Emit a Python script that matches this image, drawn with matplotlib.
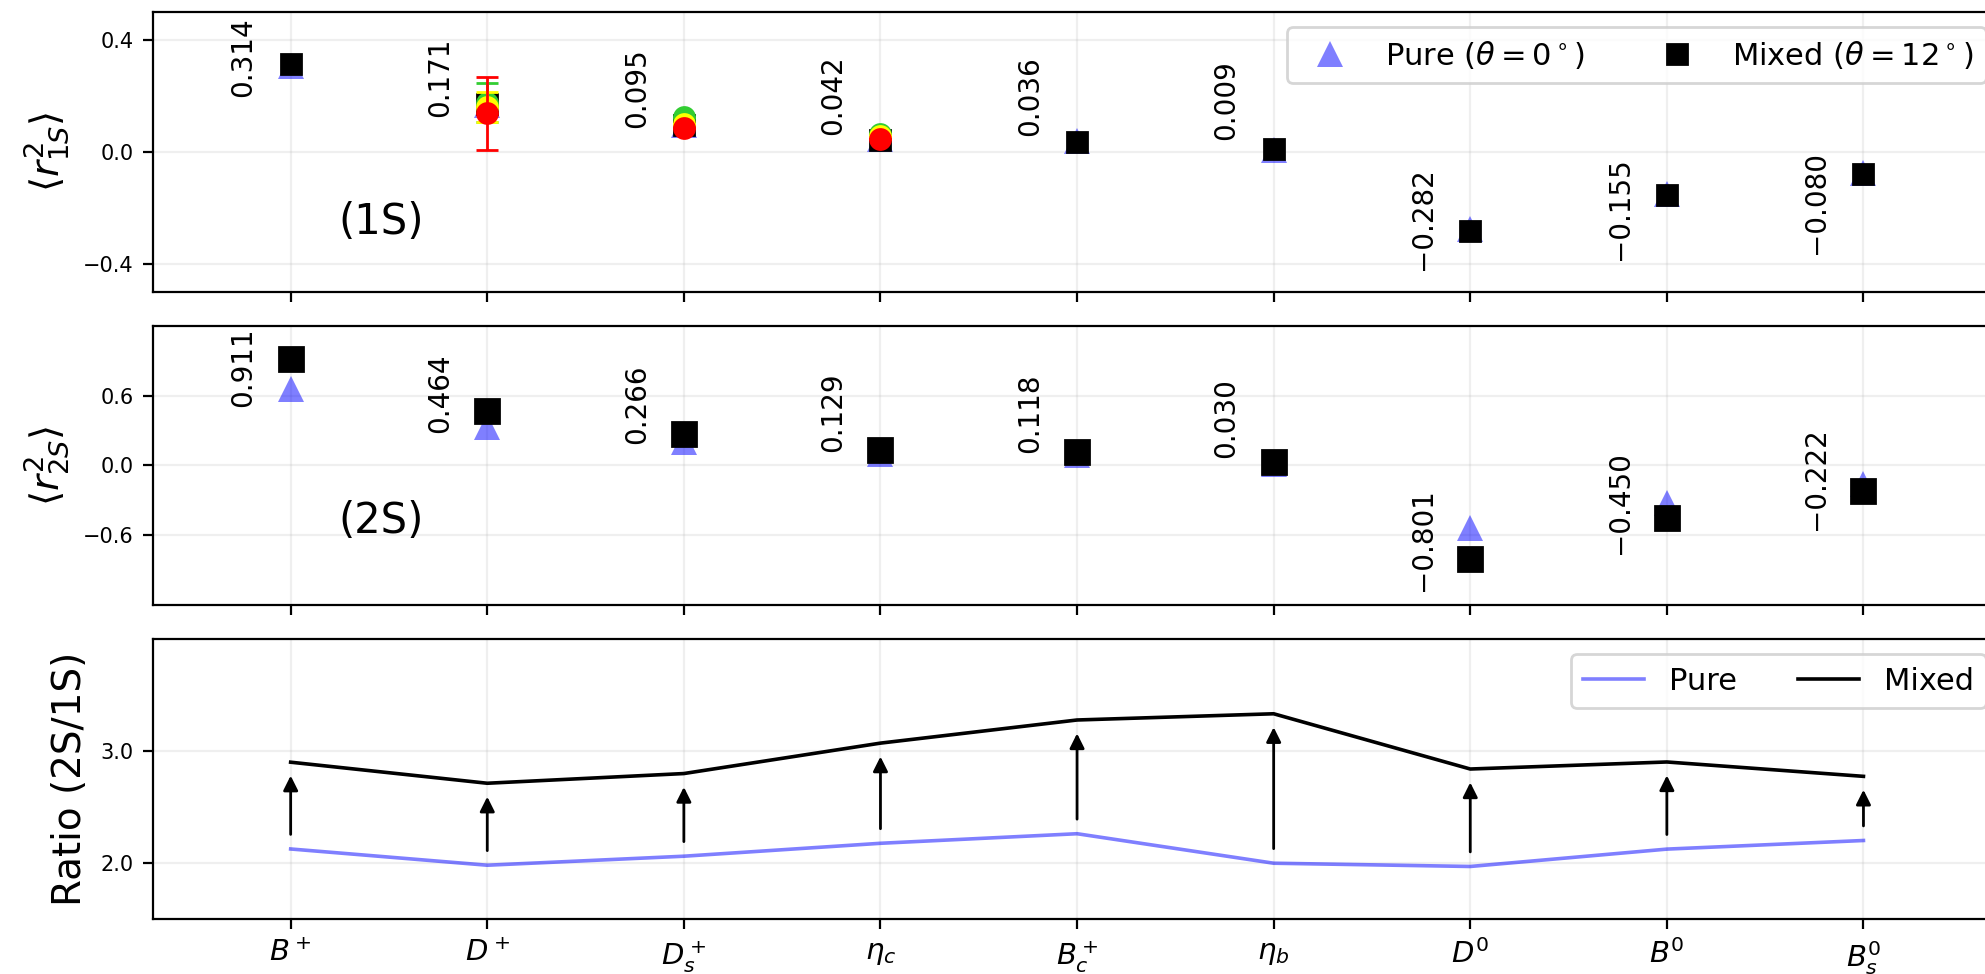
import numpy as np
import matplotlib
import matplotlib.pyplot as plt
from matplotlib.ticker import FormatStrFormatter

matplotlib.use("Agg")

# mesons on the x axis
mesons = [r"$B^+$", r"$D^+$", r"$D_s^+$", r"$\eta_c$", r"$B_c^+$",
          r"$\eta_b$", r"$D^0$", r"$B^0$", r"$B_s^0$"]

# <r^2> values, pure (theta = 0) and mixed (theta = 12 deg)
pure_1s = [0.307, 0.168, 0.096, 0.045, 0.038, 0.007, -0.275, -0.151, -0.074]
pure_2s = [0.653, 0.333, 0.198, 0.098, 0.086, 0.014, -0.542, -0.321, -0.163]
mixed_1s = [0.314, 0.171, 0.095, 0.042, 0.036, 0.009, -0.282, -0.155, -0.080]
mixed_2s = [0.911, 0.464, 0.266, 0.129, 0.118, 0.030, -0.801, -0.450, -0.222]

# other 1S results for D+, Ds+, eta_c (index 1, 2, 3)
other_idx = [1, 2, 3]
green_val = [0.176, 0.125, 0.063]
green_err = [0.070, 0.0, 0.0]
yellow_val = [0.160, 0.100, 0.055]
yellow_err = [0.053, 0.0, 0.0]
red_val = [0.138, 0.084, 0.047]
red_err = [0.130, 0.0, 0.0]

x = np.arange(len(mesons))
ratio_pure = np.array(pure_2s) / np.array(pure_1s)
ratio_mixed = np.array(mixed_2s) / np.array(mixed_1s)

fig = plt.figure(figsize=(9.925, 4.87), dpi=200)
ax1 = fig.add_axes([0.0771, 0.7002, 0.931, 0.2878])
ax2 = fig.add_axes([0.0771, 0.3789, 0.931, 0.2867])
ax3 = fig.add_axes([0.0771, 0.0562, 0.931, 0.2877])


def radius_panel(ax, pure, mixed, sq_size, ylim, yticks, ylabel, tag, tag_y, pos_rule, neg_rule):
    ax.plot(x, pure, "^", color="blue", alpha=0.5, markersize=9.5,
            markeredgewidth=0, linestyle="none", label=r"Pure ($\theta=0^\circ$)", zorder=3)
    ax.plot(x, mixed, "s", color="black", markersize=sq_size,
            linestyle="none", label=r"Mixed ($\theta=12^\circ$)", zorder=4)
    for xi, v in zip(x, mixed):
        a, b = pos_rule if v >= 0 else neg_rule
        ax.text(xi - 0.24, a * v + b, f"{v:.3f}".replace("-", "\u2212"),
                rotation=90, ha="center", va="center", fontsize=10)
    ax.text(0.46, tag_y, tag, fontsize=15, ha="center", va="center")
    ax.set_xlim(-0.7, 8.7)
    ax.set_ylim(*ylim)
    ax.set_yticks(yticks)
    ax.set_ylabel(ylabel, fontsize=14)
    ax.set_xticks(x)
    ax.set_xticklabels([])
    ax.tick_params(axis="y", labelsize=7.5)
    ax.grid(alpha=0.2)


radius_panel(ax1, pure_1s, mixed_1s, 7.5, (-0.5, 0.5), [-0.4, 0.0, 0.4],
             r"$\langle r^2_{1S} \rangle$", "(1S)", -0.25, (0.5, 0.18), (0.3, -0.155))

# extra 1S points with error bars
ax1.errorbar(x[other_idx], green_val, yerr=green_err, fmt="o", color="limegreen",
             markersize=7.2, capsize=4, elinewidth=1, zorder=5)
ax1.errorbar(x[other_idx], yellow_val, yerr=yellow_err, fmt="o", color="yellow",
             markersize=7.2, capsize=4, elinewidth=1, zorder=6)
ax1.errorbar(x[other_idx], red_val, yerr=red_err, fmt="o", color="red",
             markersize=7.2, capsize=4, elinewidth=1, zorder=7)
ax1.legend(ncol=2, loc="upper right", fontsize=11)

radius_panel(ax2, pure_2s, mixed_2s, 8.5, (-1.2, 1.2), [-0.6, 0.0, 0.6],
             r"$\langle r^2_{2S} \rangle$", "(2S)", -0.48, (0.5, 0.39), (0.9, 0.087))

# ratio panel
ax3.plot(x, ratio_pure, color="blue", alpha=0.5, linewidth=1.3, label="Pure")
ax3.plot(x, ratio_mixed, color="black", linewidth=1.3, label="Mixed")
for xi, rp, rm in zip(x, ratio_pure, ratio_mixed):
    ax3.annotate("", xy=(xi, rm - 0.12), xytext=(xi, rp + 0.13),
                 arrowprops=dict(arrowstyle="-|>", color="black", lw=1,
                                 mutation_scale=11, shrinkA=0, shrinkB=0))
ax3.set_xlim(-0.7, 8.7)
ax3.set_ylim(1.5, 4.0)
ax3.set_yticks([2.0, 3.0])
ax3.yaxis.set_major_formatter(FormatStrFormatter("%.1f"))
ax3.set_xticks(x)
ax3.set_xticklabels(mesons)
ax3.tick_params(axis="y", labelsize=7.5)
ax3.tick_params(axis="x", labelsize=10.5)
ax3.set_ylabel("Ratio (2S/1S)", fontsize=14)
ax3.grid(alpha=0.2)
ax3.legend(ncol=2, loc="upper right", fontsize=11)

plt.savefig("out.png", dpi=200, facecolor="white")
plt.close()
